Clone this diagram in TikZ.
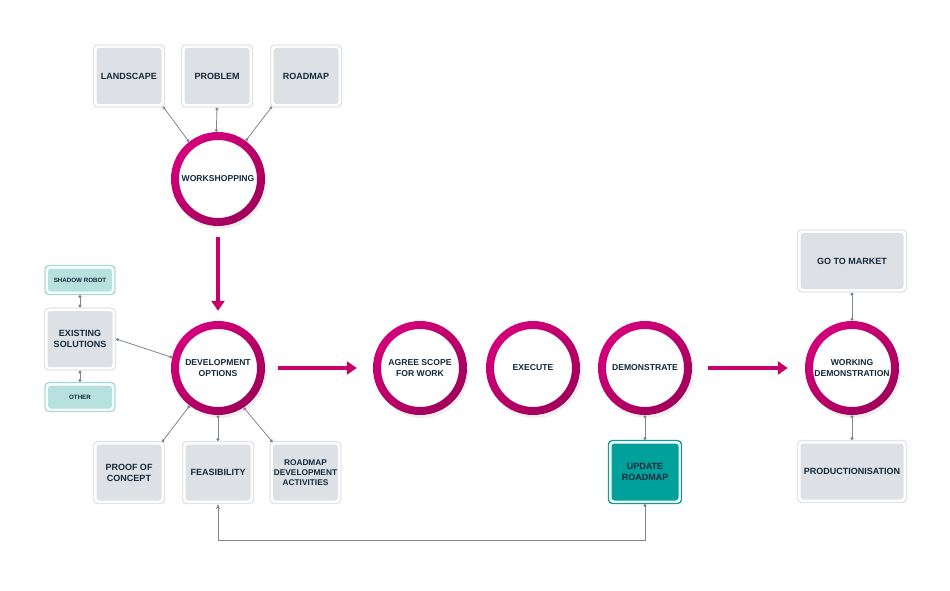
\documentclass[tikz,border=0pt]{standalone}
\usepackage{fontspec}
\setmainfont{Liberation Sans}
\usetikzlibrary{arrows.meta,shadows}
\definecolor{mag}{HTML}{C8006B}
\definecolor{magL}{HTML}{D4007A}
\definecolor{magD}{HTML}{A0005A}
\definecolor{txt}{HTML}{14293B}
\definecolor{boxg}{HTML}{DDE1E5}
\definecolor{boxb}{HTML}{E2E5E8}
\definecolor{tealL}{HTML}{B6E1DE}
\definecolor{tealLb}{HTML}{A5DAD6}
\definecolor{tealD}{HTML}{00A09B}
\definecolor{tealDb}{HTML}{0C9D98}
\definecolor{conn}{HTML}{80868F}
\tikzset{
  box/.style n args={2}{draw=#2, line width=1.3pt, fill=white, rounded corners=4pt,
    text=txt, align=center, inner sep=2pt,
    font=\bfseries\fontsize{9}{11}\selectfont,
    path picture={\fill[#1, rounded corners=3pt]
      ([shift={(3pt,3pt)}]path picture bounding box.south west) rectangle
      ([shift={(-3pt,-3pt)}]path picture bounding box.north east);}},
  gbox/.style={box={boxg}{boxb}, minimum width=71pt, minimum height=62pt},
  tbox/.style={box={tealL}{tealLb}, minimum width=70pt, minimum height=29pt,
    font=\bfseries\fontsize{6.2}{7.5}\selectfont},
  circ/.style={circle, minimum size=94pt, inner sep=0pt, fill=white, text=txt,
    align=center, font=\bfseries\fontsize{8.6}{10.6}\selectfont,
    drop shadow={shadow xshift=2pt, shadow yshift=-3pt, opacity=0.12},
    path picture={\shade[even odd rule, top color=magL, bottom color=magD, shading angle=40]
      (path picture bounding box.center) circle (47pt)
      (path picture bounding box.center) circle (39pt);}},
  conn/.style={draw=conn, line width=0.8pt, {Circle[length=3pt]}-{Circle[length=3pt]}},
  fb/.style={draw=conn, line width=0.8pt, {Circle[length=3pt]}-{Stealth[length=5pt,width=4pt]}},
  bigarrow/.style={draw=mag, line width=4pt, -{Triangle[length=10pt,width=13pt]}},
}
\begin{document}
\begin{tikzpicture}[x=1pt,y=-1pt]
\useasboundingbox[fill=white] (0,0) rectangle (950,591);
% circles
\node[circ] (ws) at (218,179) {WORKSHOPPING};
\node[circ] (dev) at (218,368) {DEVELOPMENT\\OPTIONS};
\node[circ] (agree) at (420,368) {AGREE SCOPE\\FOR WORK};
\node[circ] (exec) at (533,368) {EXECUTE};
\node[circ] (dem) at (645,368) {DEMONSTRATE};
\node[circ] (work) at (852,368) {WORKING\\DEMONSTRATION};
% top boxes
\node[gbox] (land) at (129,76) {LANDSCAPE};
\node[gbox] (prob) at (217,76) {PROBLEM};
\node[gbox] (road) at (306,76) {ROADMAP};
% left boxes
\node[tbox] (shadow) at (80,280) {SHADOW ROBOT};
\node[gbox] (exist) at (80,339) {EXISTING\\SOLUTIONS};
\node[tbox] (other) at (80,397) {OTHER};
% bottom boxes
\node[gbox] (poc) at (129,472.5) {PROOF OF\\CONCEPT};
\node[gbox] (feas) at (218,472.5) {FEASIBILITY};
\node[gbox, font=\bfseries\fontsize{8.3}{10.3}\selectfont] (rda) at (305.5,472.5) {ROADMAP\\DEVELOPMENT\\ACTIVITIES};
\node[box={tealD}{tealDb}, minimum width=73pt, minimum height=63pt] (upd) at (645,472) {UPDATE\\ROADMAP};
% right boxes
\node[gbox, minimum width=109pt] (gtm) at (852,261) {GO TO MARKET};
\node[gbox, minimum width=109pt] (prod) at (852,471.5) {PRODUCTIONISATION};
% thin connectors
\draw[conn] ([shift={(-2pt,1pt)}]land.south east) -- (ws.128);
\draw[conn] (prob.south) -- (ws.92);
\draw[conn] ([shift={(2pt,1pt)}]road.south west) -- (ws.54);
\draw[conn] (shadow.south) -- (exist.north);
\draw[conn] (exist.south) -- (other.north);
\draw[conn] (exist.east) -- (dev.167);
\draw[conn] ([shift={(-3pt,-1pt)}]poc.north east) -- (dev.233);
\draw[conn] (feas.north) -- (dev.270);
\draw[conn] ([shift={(3pt,-1pt)}]rda.north west) -- (dev.303);
\draw[conn] (dem.south) -- (upd.north);
\draw[conn] (gtm.south) -- (work.north);
\draw[conn] (work.south) -- (prod.north);
\draw[fb] (upd.south) -- ++(0,36) -| (feas.south);
% thick arrows
\draw[bigarrow] ([yshift=-11pt]ws.south) -- ([yshift=10pt]dev.north);
\draw[bigarrow] ([xshift=13pt]dev.east) -- ([xshift=-16pt]agree.west);
\draw[bigarrow] ([xshift=16pt]dem.east) -- ([xshift=-17pt]work.west);
\end{tikzpicture}
\end{document}
